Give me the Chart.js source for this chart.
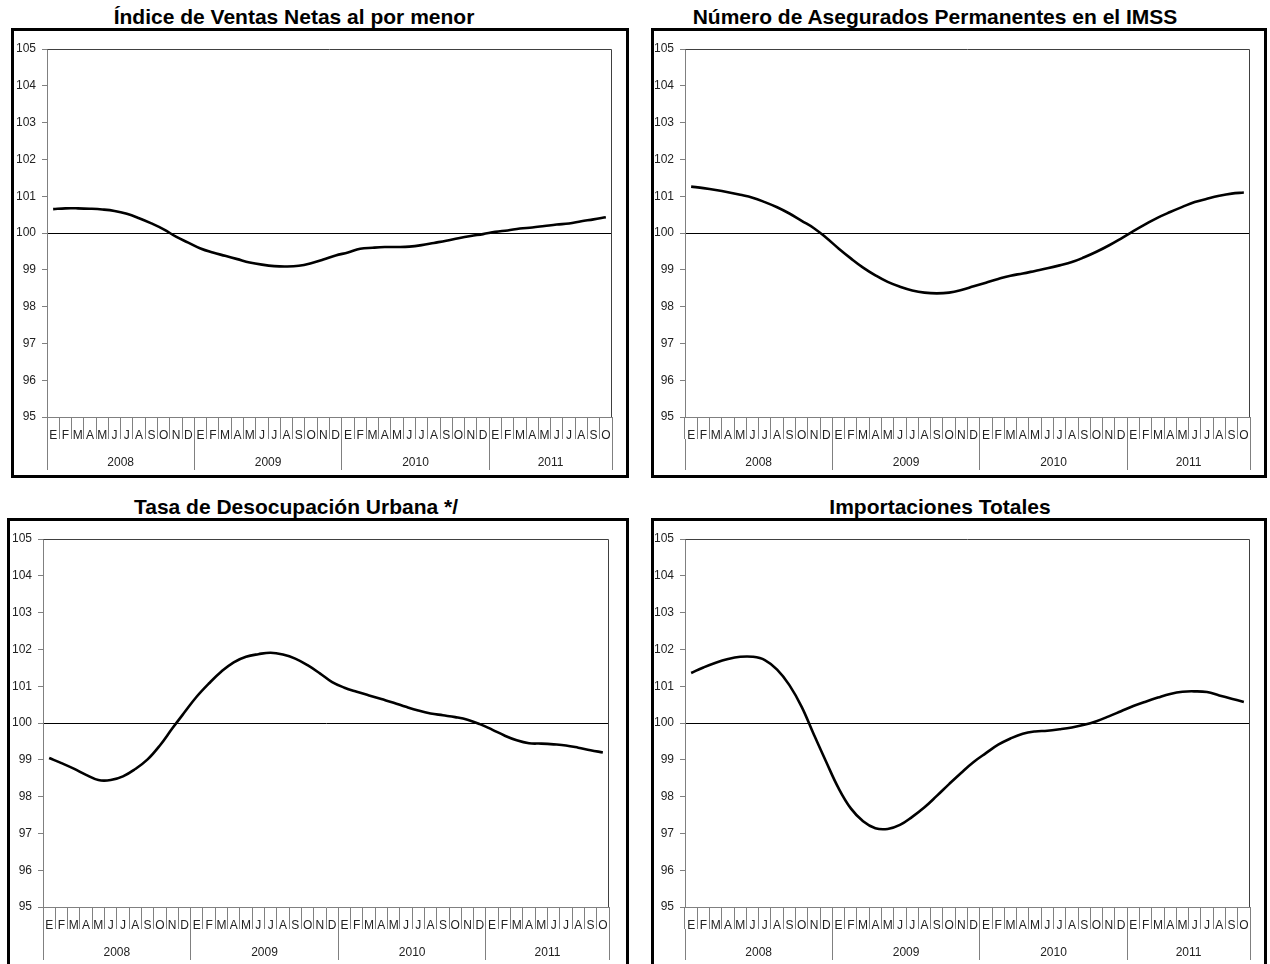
<!DOCTYPE html>
<html>
<head>
<meta charset="utf-8">
<script src="https://cdn.jsdelivr.net/npm/chart.js@4.4.0/dist/chart.umd.min.js"></script>
<style>
  html, body { margin: 0; padding: 0; width: 1270px; height: 964px; overflow: hidden; background: #fff; }
  body { position: relative; font-family: Arial, "Liberation Sans", sans-serif; }
  .title { position: absolute; width: 600px; text-align: center; font-weight: bold; font-size: 21px; line-height: 21px; color: #000; white-space: nowrap; }
  .box { position: absolute; border: 3px solid #000; box-sizing: border-box; background: #fff; }
  .box canvas { position: absolute; left: 0; top: 0; }
</style>
</head>
<body>
<div id="charts"></div>
<script>
// months (E = enero ... D = diciembre), Jan 2008 to Oct 2011
const monthNames = ["E", "F", "M", "A", "M", "J", "J", "A", "S", "O", "N", "D"];
const yearLabels = ["2008", "2009", "2010", "2011"];
const monthsPerYear = [12, 12, 12, 10];
const monthLabels = yearLabels.flatMap((y, i) => monthNames.slice(0, monthsPerYear[i]));

const yMin = 95;
const yMax = 105;
const baseLine = 100;

const chartTitles = [
  "Índice de Ventas Netas al por menor",
  "Número de Asegurados Permanentes en el IMSS",
  "Tasa de Desocupación Urbana */",
  "Importaciones Totales"
];

const ventasNetas = [
  100.65, 100.67, 100.67, 100.66, 100.64, 100.60, 100.52, 100.40, 100.26, 100.10, 99.90, 99.74,
  99.58, 99.47, 99.38, 99.29, 99.20, 99.14, 99.10, 99.09, 99.11, 99.18, 99.28, 99.39,
  99.47, 99.57, 99.60, 99.62, 99.62, 99.63, 99.67, 99.73, 99.79, 99.86, 99.92, 99.97,
  100.03, 100.07, 100.12, 100.15, 100.19, 100.23, 100.26, 100.32, 100.37, 100.43
];

const aseguradosImss = [
  101.26, 101.22, 101.17, 101.11, 101.04, 100.96, 100.84, 100.70, 100.53, 100.33, 100.13, 99.87,
  99.58, 99.31, 99.06, 98.85, 98.67, 98.54, 98.44, 98.38, 98.36, 98.38, 98.45, 98.55,
  98.65, 98.75, 98.84, 98.90, 98.97, 99.04, 99.12, 99.21, 99.34, 99.49, 99.66, 99.85,
  100.05, 100.24, 100.42, 100.57, 100.71, 100.84, 100.93, 101.01, 101.07, 101.10
];

const desocupacionUrbana = [
  99.05, 98.91, 98.76, 98.59, 98.45, 98.45, 98.55, 98.75, 99.01, 99.39, 99.85, 100.29,
  100.72, 101.08, 101.40, 101.65, 101.80, 101.87, 101.91, 101.86, 101.75, 101.57, 101.35, 101.11,
  100.96, 100.85, 100.75, 100.65, 100.55, 100.44, 100.34, 100.26, 100.21, 100.16, 100.09, 99.97,
  99.82, 99.66, 99.53, 99.45, 99.44, 99.42, 99.39, 99.33, 99.26, 99.20
];

const importacionesTotales = [
  101.36, 101.51, 101.64, 101.74, 101.80, 101.80, 101.71, 101.45, 101.03, 100.44, 99.68, 98.94,
  98.23, 97.68, 97.33, 97.14, 97.12, 97.23, 97.45, 97.71, 98.02, 98.34, 98.65, 98.94,
  99.18, 99.41, 99.58, 99.71, 99.77, 99.79, 99.83, 99.88, 99.95, 100.05, 100.18, 100.32,
  100.46, 100.58, 100.69, 100.79, 100.85, 100.86, 100.84, 100.75, 100.66, 100.57
];

const seriesList = [ventasNetas, aseguradosImss, desocupacionUrbana, importacionesTotales];

// year separators and year label positions on the month scale (0..46)
const yearBounds = [0];
monthsPerYear.forEach(n => yearBounds.push(yearBounds[yearBounds.length - 1] + n));
const yearCenters = monthsPerYear.map((n, i) => yearBounds[i] + n / 2);

// --- layout (page pixels) ---
const panels = [
  { box: [11, 28, 618, 450], plot: [47, 49, 612, 417], title: [294, 6] },
  { box: [651, 28, 616, 450], plot: [685, 49, 1250, 417], title: [935, 6] },
  { box: [7, 518, 622, 450], plot: [43, 539, 609, 907], title: [296, 496] },
  { box: [651, 518, 616, 450], plot: [685, 539, 1250, 907], title: [940, 496] }
];

const BORDER = 3;
const Y_AXIS_W = 30;
const MONTH_AXIS_H = 22;
const YEAR_AXIS_H = 31;
const AXIS_GREY = "#808080";
const TEXT = "#222";
const FONT = { family: "Arial, 'Liberation Sans', sans-serif", size: 12 };

const plotFrame = {
  id: "plotFrame",
  afterDatasetsDraw(chart) {
    const { ctx, chartArea: a } = chart;
    ctx.save();
    ctx.strokeStyle = "#404040";
    ctx.lineWidth = 1;
    ctx.beginPath();
    ctx.moveTo(Math.round(a.left) + 0.5, Math.round(a.top) + 0.5);
    ctx.lineTo(Math.round(a.right) - 0.5, Math.round(a.top) + 0.5);
    ctx.lineTo(Math.round(a.right) - 0.5, Math.round(a.bottom));
    ctx.stroke();
    ctx.restore();
  }
};

const root = document.getElementById("charts");

panels.forEach((p, idx) => {
  const [bx, by, bw, bh] = p.box;
  const [pl, pt, pr, pb] = p.plot;

  const title = document.createElement("div");
  title.className = "title";
  title.textContent = chartTitles[idx];
  title.style.left = (p.title[0] - 300) + "px";
  title.style.top = p.title[1] + "px";
  root.appendChild(title);

  const box = document.createElement("div");
  box.className = "box";
  box.style.left = bx + "px";
  box.style.top = by + "px";
  box.style.width = bw + "px";
  box.style.height = bh + "px";
  root.appendChild(box);

  const innerL = bx + BORDER, innerT = by + BORDER;
  const innerW = bw - 2 * BORDER, innerH = bh - 2 * BORDER;

  const canvas = document.createElement("canvas");
  canvas.width = innerW;
  canvas.height = innerH;
  canvas.style.width = innerW + "px";
  canvas.style.height = innerH + "px";
  box.appendChild(canvas);

  new Chart(canvas.getContext("2d"), {
    type: "line",
    data: {
      labels: monthLabels,
      datasets: [{
        data: seriesList[idx],
        borderColor: "#000",
        borderWidth: 2.6,
        pointRadius: 0,
        tension: 0.4,
        fill: false,
        xAxisID: "x",
        yAxisID: "y"
      }]
    },
    options: {
      responsive: false,
      maintainAspectRatio: false,
      devicePixelRatio: 1,
      animation: false,
      events: [],
      layout: {
        padding: {
          left: pl - innerL - Y_AXIS_W,
          top: pt - innerT,
          right: innerL + innerW - pr,
          bottom: innerT + innerH - (pb + MONTH_AXIS_H + YEAR_AXIS_H)
        }
      },
      plugins: {
        legend: { display: false },
        tooltip: { enabled: false },
        title: { display: false }
      },
      scales: {
        y: {
          min: yMin,
          max: yMax,
          afterFit: s => { s.width = Y_AXIS_W; },
          border: { color: AXIS_GREY, width: 1 },
          grid: {
            drawOnChartArea: true,
            color: c => (c.tick && c.tick.value === baseLine) ? "#000" : "rgba(0,0,0,0)",
            tickColor: AXIS_GREY,
            tickLength: 5,
            lineWidth: 1
          },
          ticks: { stepSize: 1, padding: 6, color: TEXT, font: FONT }
        },
        x: {
          type: "category",
          position: "bottom",
          weight: 0,
          offset: true,
          afterFit: s => { s.height = MONTH_AXIS_H; },
          border: { color: AXIS_GREY, width: 1 },
          grid: {
            offset: true,
            drawOnChartArea: false,
            color: AXIS_GREY,
            tickLength: MONTH_AXIS_H
          },
          ticks: {
            autoSkip: false,
            maxRotation: 0,
            minRotation: 0,
            padding: -11,
            color: TEXT,
            font: FONT
          }
        },
        year: {
          type: "linear",
          position: "bottom",
          weight: 1,
          min: 0,
          max: yearBounds[yearBounds.length - 1],
          afterFit: s => { s.height = YEAR_AXIS_H; },
          afterBuildTicks: s => {
            s.ticks = yearBounds.concat(yearCenters).sort((a, b) => a - b).map(v => ({ value: v }));
          },
          border: { display: false },
          grid: {
            drawOnChartArea: false,
            color: c => yearBounds.includes(c.tick.value) ? AXIS_GREY : "rgba(0,0,0,0)",
            tickLength: YEAR_AXIS_H
          },
          ticks: {
            autoSkip: false,
            maxRotation: 0,
            minRotation: 0,
            padding: -15,
            color: TEXT,
            font: FONT,
            callback: v => {
              const k = yearCenters.indexOf(v);
              return k >= 0 ? yearLabels[k] : "";
            }
          }
        }
      }
    },
    plugins: [plotFrame]
  });
});
</script>
</body>
</html>
